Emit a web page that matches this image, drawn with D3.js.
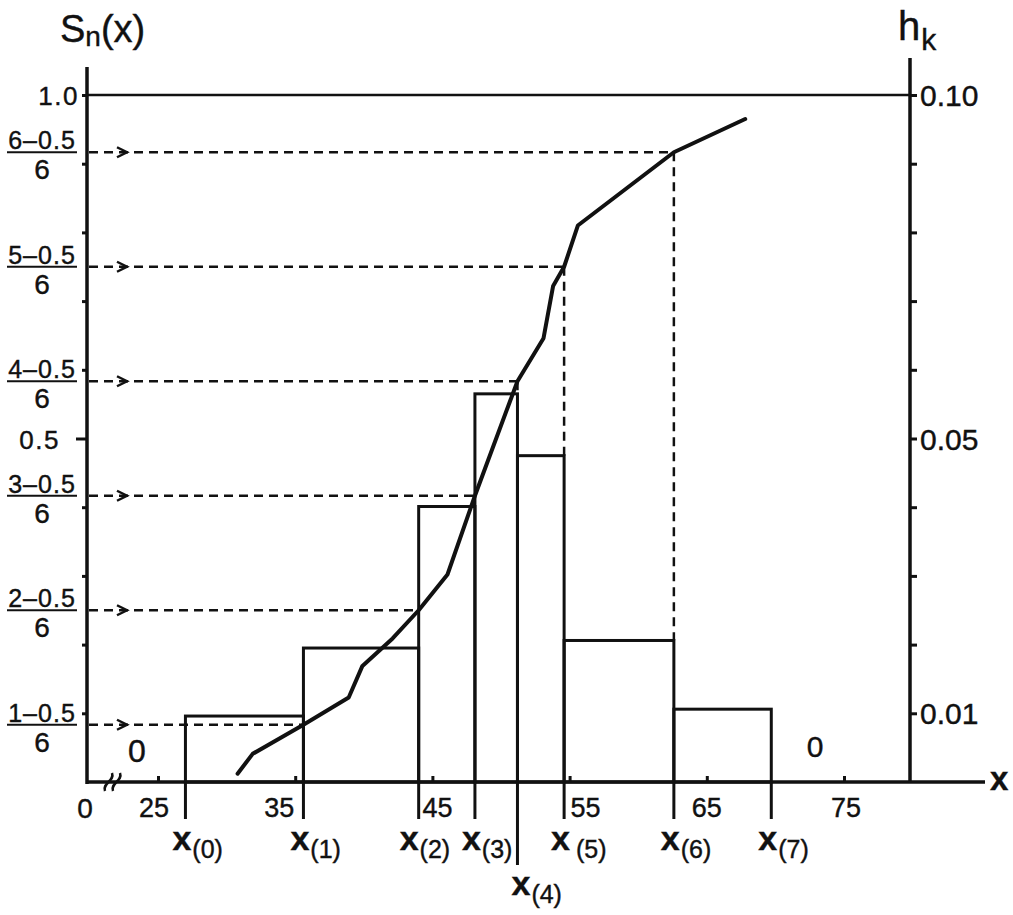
<!DOCTYPE html>
<html>
<head>
<meta charset="utf-8">
<script src="https://cdn.jsdelivr.net/npm/d3@7"></script>
<style>
  body { margin: 0; background: #fff; }
  text { font-family: "Liberation Sans", Arial, sans-serif; fill: #111; stroke: #111; stroke-width: 0.4px; }
</style>
</head>
<body>
<div id="chart"></div>
<script>
// order statistics x(0)..x(7), used as histogram bin edges
let edges = [27.0, 35.6, 44.0, 48.1, 51.2, 54.6, 62.6, 69.7];
let edgeNames = ["(0)", "(1)", "(2)", "(3)", "(4)", "(5)", "(6)", "(7)"];
// histogram heights h_k between consecutive edges
let hk = [0.0096, 0.0195, 0.0401, 0.0565, 0.0475, 0.0206, 0.0106];
// empirical distribution curve S_n(x)
let curveX = [30.8, 31.9, 35.6, 38.9, 39.9, 42.1, 44.0, 46.1, 48.1, 51.2, 53.1, 53.8, 54.6, 55.6, 62.6, 67.8];
let curveS = [0.012, 0.041, 0.0833, 0.123, 0.169, 0.209, 0.25, 0.302, 0.4167, 0.5833, 0.646, 0.722, 0.75, 0.810, 0.9167, 0.965];
// plotting positions (k-0.5)/n
let fracNum = ["1\u20130.5", "2\u20130.5", "3\u20130.5", "4\u20130.5", "5\u20130.5", "6\u20130.5"];
let fracDen = "6";
let fracVal = [0.5 / 6, 1.5 / 6, 2.5 / 6, 3.5 / 6, 4.5 / 6, 5.5 / 6];
// axis ticks and labels
let xTicks = [25, 35, 45, 55, 65, 75];
let sTicks = [0.1, 0.2, 0.3, 0.4, 0.5, 0.6, 0.7, 0.8, 0.9, 1.0];
let sLabels = [1.0, 0.5];
let hTicks = [0.01, 0.02, 0.03, 0.04, 0.05, 0.06, 0.07, 0.08, 0.09, 0.10];
let hLabels = [0.01, 0.05, 0.10];

const width = 1013, height = 915;
const base = 782, leftX = 87, rightX = 910;

let svg = d3.select("#chart")
    .append("svg")
    .attr("width", width)
    .attr("height", height);

let x = d3.scaleLinear().domain([25, 75]).range([158, 844]);
let yS = d3.scaleLinear().domain([0, 1]).range([base, 95]);
let yH = d3.scaleLinear().domain([0, 0.1]).range([base, 95]);

// --- axes lines
svg.append("line").attr("x1", leftX).attr("x2", leftX).attr("y1", 67).attr("y2", base + 2)
    .attr("stroke", "#111").attr("stroke-width", 3.5);
svg.append("line").attr("x1", rightX).attr("x2", rightX).attr("y1", 58).attr("y2", base)
    .attr("stroke", "#111").attr("stroke-width", 3.5);
svg.append("line").attr("x1", leftX - 1).attr("x2", 985).attr("y1", base).attr("y2", base)
    .attr("stroke", "#111").attr("stroke-width", 3.5);
svg.append("line").attr("x1", leftX).attr("x2", rightX).attr("y1", yS(1)).attr("y2", yS(1))
    .attr("stroke", "#111").attr("stroke-width", 2.5);

// left ticks
let leftAxis = svg.append("g")
    .attr("transform", `translate(${leftX},0)`)
    .call(d3.axisLeft(yS).tickValues(sTicks).tickSize(5).tickFormat(""));
leftAxis.select(".domain").remove();
leftAxis.selectAll(".tick line")
    .attr("stroke", "#111").attr("stroke-width", 3)
    .attr("x2", d => d == 0.5 ? -11 : -5);

// right ticks
let rightAxis = svg.append("g")
    .attr("transform", `translate(${rightX},0)`)
    .call(d3.axisRight(yH).tickValues(hTicks).tickSize(7).tickFormat(""));
rightAxis.select(".domain").remove();
rightAxis.selectAll(".tick line").attr("stroke", "#111").attr("stroke-width", 3);

// bottom ticks (pointing up)
let bottomAxis = svg.append("g")
    .attr("transform", `translate(0,${base})`)
    .call(d3.axisBottom(x).tickValues(xTicks).tickSize(-6).tickFormat(""));
bottomAxis.select(".domain").remove();
bottomAxis.selectAll(".tick line").attr("stroke", "#111").attr("stroke-width", 3);

// tick labels
let xNudge = [-4, -16, 5, 16, 0, 2];
svg.append("g").selectAll("text").data(xTicks).enter()
    .append("text")
    .attr("x", (d, i) => x(d) + xNudge[i])
    .attr("y", 817)
    .attr("text-anchor", "middle")
    .style("font-size", "27px")
    .text(d => d);

svg.append("text").attr("x", 85).attr("y", 818).attr("text-anchor", "middle")
    .style("font-size", "28px").text("0");

svg.append("g").selectAll("text").data(sLabels).enter()
    .append("text")
    .attr("x", d => d == 1 ? 79 : 60)
    .attr("y", d => yS(d) + 10)
    .attr("text-anchor", "end")
    .style("font-size", "26px")
    .style("letter-spacing", "1.5px")
    .text(d => d3.format(".1f")(d));

svg.append("g").selectAll("text").data(hLabels).enter()
    .append("text")
    .attr("x", 920)
    .attr("y", d => yH(d) + 11)
    .style("font-size", "30px")
    .text(d => d3.format(".2f")(d));

// axis break on the x axis
let brk = svg.append("g").attr("fill", "none").attr("stroke", "#111").attr("stroke-width", 2.5);
[109, 117].forEach(cx => {
    brk.append("path")
        .attr("d", `M${cx - 4},${base + 9} C${cx - 7},${base + 1} ${cx + 6},${base - 1} ${cx + 3},${base - 9}`);
});

// --- histogram bars
let bars = svg.append("g").selectAll("rect").data(hk).enter()
    .append("rect")
    .attr("x", (d, i) => x(edges[i]))
    .attr("y", d => yH(d))
    .attr("width", (d, i) => x(edges[i + 1]) - x(edges[i]))
    .attr("height", d => base - yH(d))
    .attr("fill", "none")
    .attr("stroke", "#111")
    .attr("stroke-width", 3);

// edge lines continued below the axis
svg.append("g").selectAll("line").data(edges).enter()
    .append("line")
    .attr("x1", d => x(d)).attr("x2", d => x(d))
    .attr("y1", base).attr("y2", (d, i) => i == 4 ? 865 : 819)
    .attr("stroke", "#111").attr("stroke-width", 3);

// x(k) labels
let xl = svg.append("g").selectAll("text").data(edges).enter()
    .append("text")
    .attr("x", (d, i) => x(d) + (i == 4 ? -6 : i == 2 ? -19 : -13))
    .attr("y", (d, i) => i == 4 ? 895 : 850);
xl.append("tspan").style("font-size", "34px").style("font-weight", "bold").text("x");
xl.append("tspan").attr("dx", (d, i) => i == 5 ? 6 : 1).attr("dy", 8)
    .style("font-size", "25px").text((d, i) => edgeNames[i]);

// --- dashed guide lines
let guides = svg.append("g").attr("stroke", "#111").attr("stroke-width", 2.5)
    .attr("stroke-dasharray", "9,6").attr("fill", "none");
fracVal.forEach((v, j) => {
    let k = j + 1;
    guides.append("line")
        .attr("x1", leftX + 2).attr("x2", x(edges[k]))
        .attr("y1", yS(v)).attr("y2", yS(v));
    let top = Math.min(yH(hk[k - 1]), k < hk.length ? yH(hk[k]) : base);
    if (yS(v) < top) {
        guides.append("line")
            .attr("x1", x(edges[k])).attr("x2", x(edges[k]))
            .attr("y1", yS(v)).attr("y2", top);
    }
});

// arrow heads
svg.append("g").selectAll("path").data(fracVal).enter()
    .append("path")
    .attr("d", d => `M117,${yS(d) - 5} L127,${yS(d)} L117,${yS(d) + 5}`)
    .attr("fill", "none").attr("stroke", "#111").attr("stroke-width", 2.5);

// fraction labels
let fr = svg.append("g").selectAll("g").data(fracVal).enter()
    .append("g")
    .attr("transform", d => `translate(42,${yS(d)})`);
fr.append("text").attr("y", -3).attr("text-anchor", "middle")
    .style("font-size", "25px").style("letter-spacing", "1px").text((d, i) => fracNum[i]);
fr.append("line").attr("x1", -35).attr("x2", 35)
    .attr("stroke", "#111").attr("stroke-width", 2);
fr.append("text").attr("y", 27).attr("text-anchor", "middle")
    .style("font-size", "28px").text(fracDen);

// --- S_n(x) curve
let line = d3.line()
    .x(d => x(d[0]))
    .y(d => yS(d[1]));
svg.append("path")
    .datum(d3.zip(curveX, curveS))
    .attr("d", line)
    .attr("fill", "none")
    .attr("stroke", "#111")
    .attr("stroke-width", 4)
    .attr("stroke-linejoin", "round")
    .attr("stroke-linecap", "round");

// --- titles and annotations
let t1 = svg.append("text").attr("x", 60).attr("y", 42);
t1.append("tspan").style("font-size", "38px").text("S");
t1.append("tspan").attr("dy", 4).style("font-size", "28px").text("n");
t1.append("tspan").attr("dy", -4).style("font-size", "38px").text("(x)");

let t2 = svg.append("text").attr("x", 898).attr("y", 40);
t2.append("tspan").style("font-size", "40px").text("h");
t2.append("tspan").attr("dy", 10).attr("dx", 1).style("font-size", "30px").text("k");

svg.append("text").attr("x", 990).attr("y", 790)
    .style("font-size", "33px").style("font-weight", "bold").text("x");

svg.append("text").attr("x", 137).attr("y", 762).attr("text-anchor", "middle")
    .style("font-size", "32px").text("0");
svg.append("text").attr("x", 815).attr("y", 757).attr("text-anchor", "middle")
    .style("font-size", "30px").text("0");
</script>
</body>
</html>
